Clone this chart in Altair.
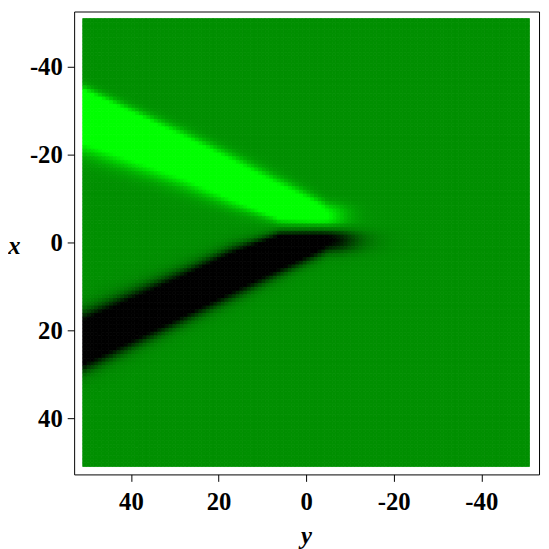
import numpy as np
import pandas as pd
import altair as alt

# ---- axes ----
TICKS = [-40, -20, 0, 20, 40]
PLOT_RANGE = [-51, 51]          # data range of the density plot (both axes)
N_CELLS = 120                   # cells per side of the density grid

# ---- features (data units) ----
# positions along the horizontal axis "y" where the band edges were read
EDGE_Y = [-5, 6, 17, 28, 51]
DIVIDER_X = -3.8                # line x = const. separating bright and dark bands
# distance of band edges from the divider at EDGE_Y positions
BRIGHT_OUTER = [4.5, 9.8, 15.4, 20.8, 31.3]
BRIGHT_INNER = [0.45, 1.0, 5.0, 9.6, 17.6]
BRIGHT_OUTER_SOFT = [0.7, 0.9, 0.9, 0.8, 0.6]
BRIGHT_INNER_SOFT = [0.4, 0.6, 1.0, 1.2, 1.3]
DARK_OUTER = [5.6, 10.6, 16.0, 21.4, 32.6]
DARK_INNER = [1.6, 1.8, 5.6, 10.7, 20.6]
DARK_OUTER_SOFT = [0.8, 0.9, 1.0, 1.0, 1.1]
DARK_INNER_SOFT = [0.5, 0.6, 0.9, 1.0, 1.2]
TIP_Y = [-7.0, -9.5]            # where bright / dark band fades out
TIP_SOFT = [2.0, 2.8]
GAIN = [1.4, 1.4]               # saturation of bright / dark band
BASE_LEVEL = 0.56               # background level (0 = black, 1 = bright green)
COLORS = ["#000000", "#00ff00"]  # colour of level 0 and level 1


def sig(z):
    return 1.0 / (1.0 + np.exp(-z))


def band(q, h, outer, inner, so, si, tip, ts):
    o = np.interp(h, EDGE_Y, outer)
    i = np.interp(h, EDGE_Y, inner)
    s_o = np.interp(h, EDGE_Y, so)
    s_i = np.interp(h, EDGE_Y, si)
    return sig((q - i) / s_i) * sig((o - q) / s_o) * sig((h - tip) / ts)


step = (PLOT_RANGE[1] - PLOT_RANGE[0]) / N_CELLS
edges = PLOT_RANGE[0] + step * np.arange(N_CELLS)
centers = edges + step / 2
H, V = np.meshgrid(centers, centers)          # H: horizontal "y", V: vertical "x"
HL, VL = np.meshgrid(edges, edges)

B = band(DIVIDER_X - V, H, BRIGHT_OUTER, BRIGHT_INNER, BRIGHT_OUTER_SOFT,
         BRIGHT_INNER_SOFT, TIP_Y[0], TIP_SOFT[0])
D = band(V - DIVIDER_X, H, DARK_OUTER, DARK_INNER, DARK_OUTER_SOFT,
         DARK_INNER_SOFT, TIP_Y[1], TIP_SOFT[1])
B = np.minimum(1, GAIN[0] * B)
D = np.minimum(1, GAIN[1] * D)
T = np.clip(BASE_LEVEL + (1 - BASE_LEVEL) * B - BASE_LEVEL * D, 0, 1)

df = pd.DataFrame({
    "y0": np.round(HL.ravel(), 3),
    "y1": np.round(HL.ravel() + step, 3),
    "x0": np.round(VL.ravel(), 3),
    "x1": np.round(VL.ravel() + step, 3),
    "t": np.round(T.ravel(), 4),
})

FONT = "Liberation Serif"
W, Hh = 471, 469
color_scale = alt.Scale(domain=[0, 1], range=COLORS, clamp=True, interpolate="rgb")

axis_common = dict(
    values=TICKS, labelExpr="toString(datum.value)", tickSize=7, tickColor="black",
    tickWidth=1, domain=False, grid=False, labelFont=FONT, labelFontSize=25,
    labelFontWeight="bold", labelColor="black", labelOverlap=False, labelFlush=False,
    titleFont=FONT, titleFontSize=25, titleFontStyle="italic", titleFontWeight="bold",
    titleColor="black", titleBaseline="alphabetic", titleAlign="center", titleAngle=0,
)

chart = alt.Chart(df).mark_rect(strokeWidth=0.8, opacity=1).encode(
    x=alt.X("y0:Q", title="y",
            scale=alt.Scale(domain=[-53.18, 52.96], reverse=True, nice=False, zero=False),
            axis=alt.Axis(labelPadding=9, titleX=235, titleY=70, **axis_common)),
    x2="y1:Q",
    y=alt.Y("x0:Q", title="x",
            scale=alt.Scale(domain=[-52.6, 52.8], reverse=True, nice=False, zero=False),
            axis=alt.Axis(labelPadding=5, titleX=-61, titleY=245, **axis_common)),
    y2="x1:Q",
    color=alt.Color("t:Q", scale=color_scale, legend=None),
    stroke=alt.Stroke("t:Q", scale=color_scale, legend=None),
).properties(
    width=W, height=Hh,
    autosize=alt.AutoSizeParams(type="none"),
    padding={"left": 67, "top": 0, "right": 2, "bottom": 72},
    background="white",
).configure_view(stroke="black", strokeWidth=1)

chart.save("out.html", embed_options={"renderer": "svg", "actions": False})
